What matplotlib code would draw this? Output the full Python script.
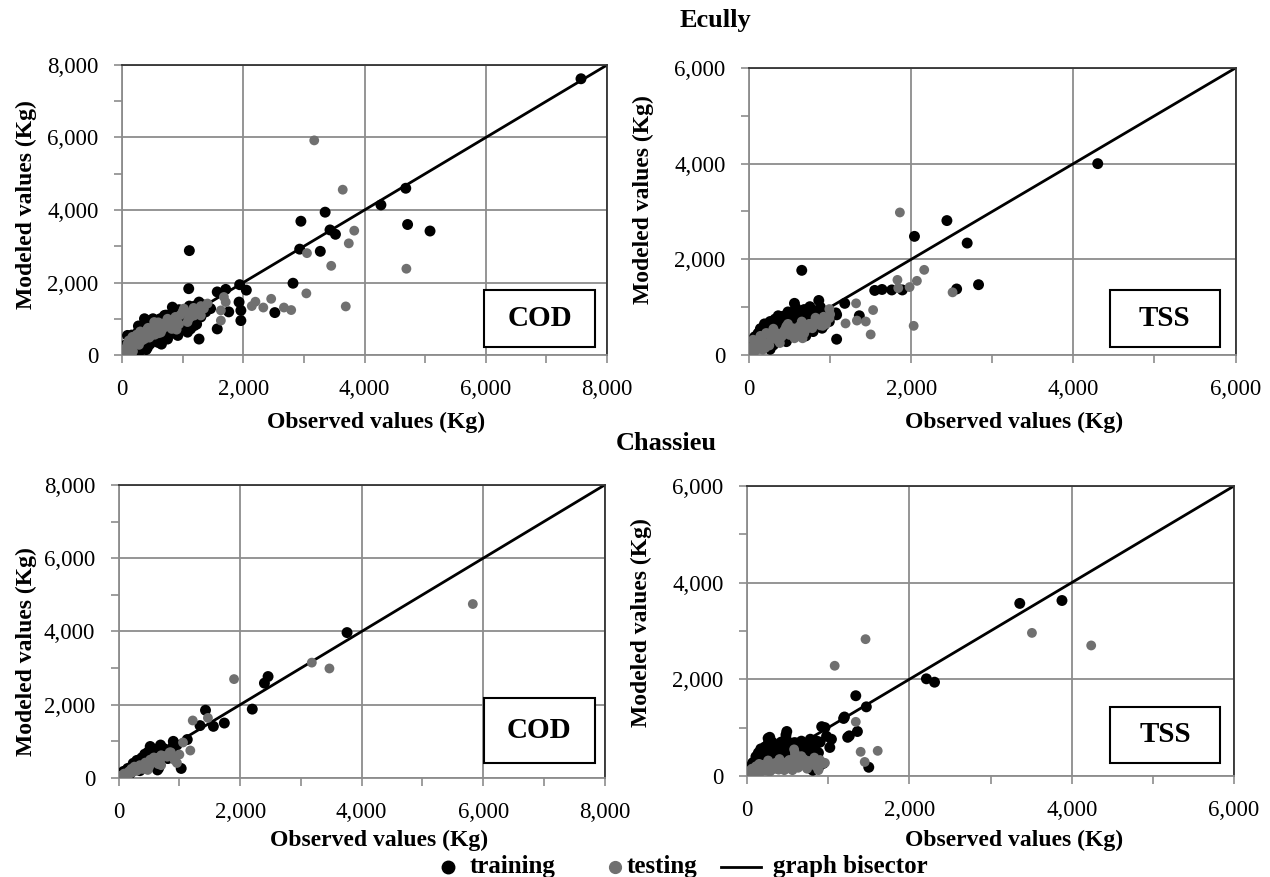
#!/usr/bin/env python

# ******************************************    Libraries to be imported    ****************************************** #
from matplotlib import pyplot as plt
from matplotlib.lines import Line2D
from matplotlib.patches import Rectangle
from matplotlib.ticker import FuncFormatter, MultipleLocator

plt.rcParams['font.family'] = ['Liberation Serif', 'DejaVu Serif']

# ******************************************        Data (Kg)               ****************************************** #
# Ecully - COD
ecully_cod_train_obs = [7570, 4680, 4270, 3350, 2950, 4710, 5080, 3430, 3520, 2930, 3270, 1110, 2820, 2520,
                        1100, 1570, 1710, 1940, 2050, 1930, 1960, 1960, 1570, 1760, 1270, 1270, 1130, 1130,
                        920, 830, 700, 590, 370, 480, 420, 260, 150, 40, 750, 920, 1080, 590, 310, 1460,
                        1380, 1000, 640, 1190, 90, 10, 200, 300, 450, 550, 700, 800, 100, 350, 500, 650, 850, 1000,
                        50, 120, 180, 230, 280, 330, 380, 430, 480, 530, 560, 620, 680, 730, 780, 850, 880, 950,
                        1020, 1050, 1150, 1200, 1250, 1320, 650, 400, 300, 700,
                        20, 70, 100, 140, 160, 210, 250, 270, 320, 360, 410, 460, 510, 540, 600, 630, 720, 760,
                        820, 870, 940, 990, 1060, 1110, 1180, 1230, 1300, 1350]
ecully_cod_train_mod = [7620, 4600, 4140, 3940, 3690, 3600, 3420, 3450, 3330, 2920, 2860, 2880, 1980, 1170,
                        1830, 1740, 1810, 1940, 1790, 1460, 1230, 950, 720, 1190, 440, 1460, 1280, 720,
                        1230, 1320, 1090, 910, 1000, 770, 210, 630, 440, 260, 440, 540, 630, 350, 350, 1280,
                        1190, 1000, 540, 810, 540, 170, 300, 500, 600, 700, 800, 900, 150, 250, 400, 650, 700, 850,
                        100, 250, 380, 200, 450, 600, 700, 500, 880, 620, 450, 780, 900, 650, 1000, 800, 1100, 950,
                        780, 1150, 1000, 1350, 1150, 1300, 300, 150, 120, 550,
                        60, 200, 320, 120, 550, 480, 300, 800, 180, 850, 950, 300, 1000, 850, 650, 1000, 1100, 560,
                        1150, 600, 1250, 700, 900, 1350, 1200, 850, 1050, 1380]
ecully_cod_test_obs = [3170, 3640, 3830, 3740, 3050, 3450, 4690, 3040, 3690, 2460, 2200, 2330, 2140, 2670, 2790,
                       1680, 1710, 1630, 1630, 1350, 1300, 1020, 1130, 920, 810, 640, 530, 420, 310, 200, 90, 40,
                       370, 150, 750, 1190, 480, 1410, 1080, 250, 600, 900,
                       60, 130, 220, 280, 350, 450, 520, 560, 660, 700, 780, 850, 960, 1060, 1150, 1250, 400, 180, 330,
                       30, 80, 110, 170, 240, 300, 380, 430, 480, 540, 600, 640, 720, 760, 820, 880, 940, 1000,
                       1100, 1180, 1220, 1300]
ecully_cod_test_mod = [5920, 4560, 3430, 3080, 2810, 2460, 2380, 1700, 1340, 1550, 1470, 1310, 1350, 1310, 1240,
                       1600, 1460, 1230, 950, 1280, 1090, 1280, 1050, 860, 770, 770, 910, 720, 580, 440, 310, 120,
                       440, 170, 1000, 1090, 540, 1420, 910, 300, 600, 700,
                       60, 200, 350, 280, 520, 480, 680, 820, 700, 880, 850, 950, 1100, 1180, 1150, 1250, 620, 100, 400,
                       150, 230, 400, 500, 560, 650, 550, 750, 700, 560, 900, 620, 780, 950, 720, 1050, 850, 1200,
                       1000, 1300, 1150, 1350]

# Ecully - TSS
ecully_tss_train_obs = [4300, 2440, 2040, 2690, 2830, 2560, 650, 1550, 1640, 1760, 1890, 1180, 1080, 1080, 1360, 860,
                        750, 560, 560, 420, 340, 890, 870, 1070, 700, 620, 500, 380, 250, 130, 70, 30, 300, 170,
                        930, 790, 460, 990, 200, 100, 400, 600,
                        40, 80, 120, 150, 200, 230, 280, 330, 380, 450, 520, 600, 650, 720, 800, 260, 350, 550, 700, 900,
                        20, 50, 70, 110, 140, 170, 190, 220, 260, 300, 320, 360, 410, 430, 480, 510, 540, 580, 640,
                        680, 740, 760, 830, 880, 950, 1000]
ecully_tss_train_mod = [4000, 2810, 2480, 2340, 1470, 1380, 1770, 1350, 1370, 1360, 1360, 1080, 840, 330, 820, 1140,
                        1010, 1080, 920, 810, 700, 880, 740, 880, 810, 670, 560, 460, 530, 490, 320, 140, 210, 180,
                        630, 490, 280, 700, 300, 250, 350, 450,
                        60, 150, 350, 250, 420, 550, 400, 600, 650, 700, 780, 850, 600, 700, 900, 120, 300, 480, 400, 560,
                        100, 250, 380, 450, 550, 350, 650, 250, 700, 500, 750, 820, 550, 800, 900, 650, 750, 980, 760,
                        950, 560, 880, 650, 1000, 800, 900]
ecully_tss_test_obs = [1860, 2160, 2070, 1830, 1980, 1840, 2510, 2030, 1320, 1530, 1330, 1440, 1190, 1500, 990, 910,
                       990, 790, 700, 620, 540, 420, 300, 210, 130, 50, 50, 460, 660, 380, 170, 250, 580,
                       30, 90, 110, 160, 240, 320, 360, 430, 500, 560, 620, 700, 780, 850, 920, 950, 200,
                       20, 60, 100, 140, 180, 230, 280, 300, 350, 400, 450, 480, 530, 600, 650, 680, 740, 820, 880, 1000]
ecully_tss_test_mod = [2980, 1780, 1550, 1570, 1420, 1400, 1310, 610, 1080, 940, 720, 700, 660, 430, 960, 610,
                       770, 670, 530, 460, 560, 420, 350, 460, 280, 140, 320, 600, 350, 250, 110, 200, 380,
                       50, 100, 200, 330, 260, 420, 300, 500, 420, 350, 600, 620, 560, 700, 800, 650, 150,
                       150, 220, 300, 400, 250, 450, 350, 550, 450, 380, 550, 650, 480, 520, 700, 450, 650, 780, 620, 850]

# Chassieu - COD
chassieu_cod_train_obs = [3760, 2460, 2400, 2200, 1430, 1340, 1560, 1740, 1130, 900, 1030, 690, 520, 660,
                          530, 650, 750, 890, 450, 310, 200, 90, 640, 810, 530, 400, 150, 250,
                          30, 60, 120, 170, 220, 280, 330, 360, 420, 470, 560, 600, 700, 350, 450, 580,
                          40, 80, 100, 150, 190, 240, 270, 300, 380, 430, 480, 500, 550, 620, 680, 720, 780, 850,
                          900, 960]
chassieu_cod_train_mod = [3970, 2770, 2590, 1880, 1850, 1430, 1410, 1500, 1050, 1000, 260, 900, 860, 270,
                          660, 800, 800, 840, 530, 350, 220, 130, 220, 530, 350, 450, 180, 300,
                          50, 90, 150, 250, 200, 380, 300, 420, 380, 600, 560, 700, 700, 200, 300, 450,
                          120, 180, 60, 260, 120, 400, 220, 480, 550, 650, 700, 450, 750, 620, 780, 550, 650, 750,
                          880, 900]
chassieu_cod_test_obs = [5830, 3180, 3470, 1900, 1220, 1470, 1060, 1180, 1000, 840, 960,
                         860, 700, 530, 370, 200, 40, 700, 480, 260, 920, 100, 300, 600,
                         20, 60, 130, 170, 230, 280, 330, 400, 450, 500, 560, 620, 650, 420,
                         30, 90, 150, 210, 250, 300, 350, 380, 440, 480, 520, 580, 640, 680, 740, 800, 860]
chassieu_cod_test_mod = [4750, 3150, 2990, 2700, 1570, 1640, 970, 750, 640, 700, 410,
                         620, 620, 400, 270, 130, 40, 350, 220, 310, 490, 80, 200, 500,
                         20, 50, 100, 180, 160, 250, 280, 330, 380, 300, 420, 480, 380, 250,
                         60, 120, 140, 250, 200, 300, 350, 250, 420, 330, 500, 560, 550, 450, 600, 580, 700]

# Chassieu - TSS
chassieu_tss_train_obs = [3880, 3360, 2210, 2310, 1340, 1470, 1190, 1360, 1240, 920, 960, 1040, 1020, 1500, 480, 480,
                          260, 240, 820, 690, 940, 810, 490, 270, 150, 70, 350, 430, 590, 670, 780, 860, 880, 800,
                          880, 760, 510, 310, 1200, 1260, 100, 200,
                          30, 60, 100, 130, 180, 200, 230, 280, 300, 330, 380, 400, 450, 550, 630, 700, 750, 600,
                          400, 260, 280,
                          20, 50, 80, 110, 140, 170, 190, 220, 250, 270, 310, 340, 360, 420, 470, 500, 530, 570,
                          650, 680, 720, 790, 840, 900, 980]
chassieu_tss_train_mod = [3630, 3570, 2010, 1940, 1660, 1430, 1190, 920, 800, 1020, 1000, 760, 590, 180, 850, 780,
                          660, 540, 730, 680, 260, 120, 920, 720, 410, 270, 480, 550, 690, 720, 760, 720, 480, 310,
                          170, 170, 380, 200, 1220, 830, 150, 300,
                          40, 120, 300, 200, 350, 500, 420, 350, 600, 450, 500, 650, 420, 600, 550, 600, 450, 300,
                          250, 780, 800,
                          120, 200, 280, 400, 480, 560, 250, 600, 300, 550, 700, 350, 600, 700, 520, 700, 500, 680,
                          480, 640, 520, 620, 560, 700, 820]
chassieu_tss_test_obs = [1460, 1080, 3510, 4240, 1340, 1400, 1610, 1450, 930, 580,
                         20, 110, 190, 270, 350, 430, 510, 590, 590, 670, 760, 820, 960, 390, 720, 150,
                         40, 80, 130, 160, 230, 250, 300, 330, 460, 480, 540, 630, 640, 700, 850, 900, 520,
                         10, 60, 100, 150, 200, 260, 280, 360, 400, 440, 560, 580, 610, 680, 740, 780, 830, 880]
chassieu_tss_test_mod = [2830, 2280, 2960, 2700, 1120, 500, 520, 290, 250, 550,
                         100, 200, 230, 160, 270, 200, 160, 230, 480, 410, 310, 310, 270, 130, 200, 130,
                         40, 80, 180, 70, 110, 250, 120, 200, 120, 280, 210, 170, 300, 350, 200, 330, 330,
                         60, 150, 110, 250, 180, 320, 90, 150, 350, 260, 120, 380, 250, 280, 150, 260, 380, 120]

sites = ['Ecully', 'Chassieu']
pollutants = ['COD', 'TSS']
axis_max = [8000, 6000]
legend_labels = ['training', 'testing', 'graph bisector']

TRAIN_COLOR = '#000000'
TEST_COLOR = '#707070'
GRID_COLOR = '#8c8c8c'
FS = 17


# ******************************************        Function Definition     ****************************************** #
def draw_panel(ax, train_obs, train_mod, test_obs, test_mod, lim, name, box, xlab_pos, ylab_pos):
    ax.plot([0, lim], [0, lim], color='k', lw=2, zorder=2)
    ax.scatter(train_obs, train_mod, s=62, color=TRAIN_COLOR, edgecolors='none', zorder=3)
    ax.scatter(test_obs, test_mod, s=50, color=TEST_COLOR, edgecolors='none', zorder=4)

    ax.set_xlim(0, lim)
    ax.set_ylim(0, lim)
    ax.xaxis.set_major_locator(MultipleLocator(2000))
    ax.yaxis.set_major_locator(MultipleLocator(2000))
    ax.xaxis.set_minor_locator(MultipleLocator(1000))
    ax.yaxis.set_minor_locator(MultipleLocator(1000))
    fmt = FuncFormatter(lambda v, p: '{:,.0f}'.format(v))
    ax.xaxis.set_major_formatter(fmt)
    ax.yaxis.set_major_formatter(fmt)
    ax.tick_params(which='both', direction='out', length=6, width=1.2, color=GRID_COLOR,
                   labelsize=16.5, pad=11)
    ax.grid(True, which='major', color=GRID_COLOR, lw=1.3)
    ax.set_axisbelow(True)

    for side in ['left', 'bottom']:
        ax.spines[side].set_color(GRID_COLOR)
        ax.spines[side].set_linewidth(1.3)
    for side in ['top', 'right']:
        ax.spines[side].set_color('#333333')
        ax.spines[side].set_linewidth(1.3)

    ax.set_xlabel('Observed values (Kg)', fontsize=FS, fontweight='bold')
    ax.set_ylabel('Modeled values (Kg)', fontsize=FS, fontweight='bold')
    ax.xaxis.set_label_coords(*xlab_pos)
    ax.yaxis.set_label_coords(*ylab_pos)

    x0, y0, w, h = box
    ax.add_patch(Rectangle((x0, y0), w, h, transform=ax.transAxes, facecolor='white',
                           edgecolor='k', lw=1.5, zorder=5))
    ax.text(x0 + w / 2, y0 + h / 2, name, transform=ax.transAxes, ha='center', va='center',
            fontsize=21, fontweight='bold', zorder=6)


# ******************************************        Main Program Start      ****************************************** #
def main():
    fig = plt.figure(figsize=(12.7, 8.77), dpi=100)

    ax1 = fig.add_axes([0.0961, 0.5952, 0.3819, 0.3307])
    ax2 = fig.add_axes([0.5898, 0.5952, 0.3831, 0.3273])
    ax3 = fig.add_axes([0.0934, 0.1129, 0.3827, 0.3341])
    ax4 = fig.add_axes([0.5882, 0.1152, 0.3835, 0.3307])

    draw_panel(ax1, ecully_cod_train_obs, ecully_cod_train_mod, ecully_cod_test_obs, ecully_cod_test_mod,
               axis_max[0], pollutants[0], (0.746, 0.028, 0.230, 0.196), (0.524, -0.197), (-0.175, 0.52))
    draw_panel(ax2, ecully_tss_train_obs, ecully_tss_train_mod, ecully_tss_test_obs, ecully_tss_test_mod,
               axis_max[1], pollutants[1], (0.741, 0.028, 0.227, 0.198), (0.545, -0.199), (-0.195, 0.54))
    draw_panel(ax3, chassieu_cod_train_obs, chassieu_cod_train_mod, chassieu_cod_test_obs, chassieu_cod_test_mod,
               axis_max[0], pollutants[0], (0.751, 0.051, 0.229, 0.222), (0.536, -0.177), (-0.168, 0.43))
    draw_panel(ax4, chassieu_tss_train_obs, chassieu_tss_train_mod, chassieu_tss_test_obs, chassieu_tss_test_mod,
               axis_max[1], pollutants[1], (0.745, 0.045, 0.227, 0.193), (0.548, -0.186), (-0.195, 0.53))

    fig.text(715 / 1270, 1 - 20 / 877, sites[0], ha='center', va='center', fontsize=19, fontweight='bold')
    fig.text(666 / 1270, 1 - 443 / 877, sites[1], ha='center', va='center', fontsize=19, fontweight='bold')

    # legend row, drawn by hand so the uneven spacing of the original is kept
    ly = 1 - 867 / 877
    ty = 1 - 873 / 877
    fig.add_artist(Line2D([448 / 1270], [ly], transform=fig.transFigure, ls='none', marker='o', ms=9,
                          color=TRAIN_COLOR))
    fig.add_artist(Line2D([615 / 1270], [ly], transform=fig.transFigure, ls='none', marker='o', ms=8.5,
                          color=TEST_COLOR))
    fig.add_artist(Line2D([721 / 1270, 761 / 1270], [ly, ly], transform=fig.transFigure, color='k', lw=2))
    for x, lab in zip([470, 627, 773], legend_labels):
        fig.text(x / 1270, ty, lab, ha='left', va='baseline', fontsize=18, fontweight='bold')

    fig.savefig('out.png', dpi=100)


# ******************************************        Main Program End        ****************************************** #

if __name__ == '__main__':
    main()
